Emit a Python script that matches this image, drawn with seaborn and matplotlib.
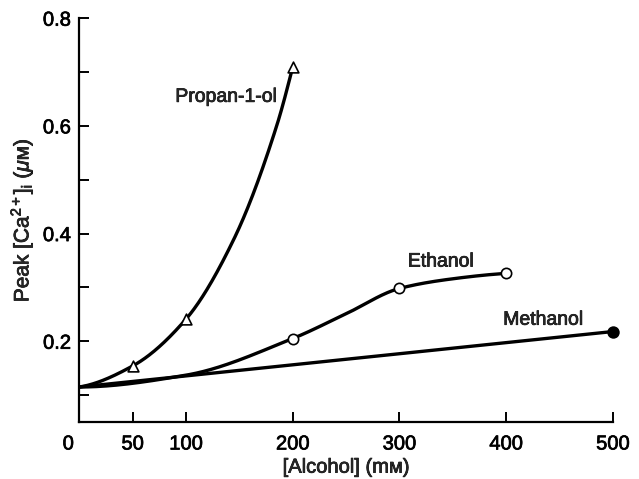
import numpy as np
import pandas as pd
import matplotlib
matplotlib.use("Agg")
import matplotlib.pyplot as plt
import matplotlib.transforms as mtransforms
import matplotlib.patheffects as pe
import seaborn as sns

# ---- data ----
# traced curve paths (start point at 0 mM plus points along the drawn curves)
prop_x = [0, 50, 100, 145, 185, 200]
prop_y = [0.115, 0.154, 0.241, 0.390, 0.600, 0.709]
eth_x = [0, 100, 200, 250, 300, 350, 400]
eth_y = [0.115, 0.137, 0.205, 0.251, 0.298, 0.316, 0.326]
meth_x = [0, 500]
meth_y = [0.115, 0.218]

# measured points (markers)
prop_marker_x = [50, 100, 200]
prop_marker_y = [0.154, 0.241, 0.709]
eth_marker_x = [200, 300, 400]
eth_marker_y = [0.205, 0.298, 0.326]
meth_marker_x = [500]
meth_marker_y = [0.218]

x_ticks = [0, 50, 100, 200, 300, 400, 500]
y_major = [0.2, 0.4, 0.6, 0.8]
y_minor = [0.1, 0.3, 0.5, 0.7]


def pchip(x, y, n=300):
    x = np.asarray(x, float)
    y = np.asarray(y, float)
    h = np.diff(x)
    d = np.diff(y) / h
    m = np.zeros_like(x)
    for k in range(1, len(x) - 1):
        if d[k - 1] * d[k] > 0:
            w1 = 2 * h[k] + h[k - 1]
            w2 = h[k] + 2 * h[k - 1]
            m[k] = (w1 + w2) / (w1 / d[k - 1] + w2 / d[k])
    if len(x) > 2:
        m[0] = ((2 * h[0] + h[1]) * d[0] - h[0] * d[1]) / (h[0] + h[1])
        if np.sign(m[0]) != np.sign(d[0]):
            m[0] = 0
        m[-1] = ((2 * h[-1] + h[-2]) * d[-1] - h[-1] * d[-2]) / (h[-1] + h[-2])
        if np.sign(m[-1]) != np.sign(d[-1]):
            m[-1] = 0
    else:
        m[:] = d[0]
    xs = np.linspace(x[0], x[-1], n)
    ys = np.empty_like(xs)
    for i, xv in enumerate(xs):
        k = min(np.searchsorted(x, xv, side="right") - 1, len(x) - 2)
        t = (xv - x[k]) / h[k]
        h00 = 2 * t**3 - 3 * t**2 + 1
        h10 = t**3 - 2 * t**2 + t
        h01 = -2 * t**3 + 3 * t**2
        h11 = t**3 - t**2
        ys[i] = h00 * y[k] + h10 * h[k] * m[k] + h01 * y[k + 1] + h11 * h[k] * m[k + 1]
    return xs, ys


sns.set_theme(style="ticks")
plt.rcParams["font.family"] = ["Liberation Sans", "DejaVu Sans"]
plt.rcParams["mathtext.fontset"] = "custom"
plt.rcParams["mathtext.rm"] = "Liberation Sans"
plt.rcParams["mathtext.it"] = "Liberation Sans:italic"

thick = [pe.withStroke(linewidth=0.5, foreground="black")]

fig = plt.figure(figsize=(6.39, 4.79), dpi=100)
ax = fig.add_axes([0.124, 0.119, 0.835, 0.843])

lw = 2.4
for cx, cy in [(prop_x, prop_y), (eth_x, eth_y), (meth_x, meth_y)]:
    xs, ys = pchip(cx, cy)
    sns.lineplot(x=xs, y=ys, ax=ax, color="black", linewidth=lw, sort=False,
                 estimator=None)

sns.scatterplot(x=prop_marker_x, y=prop_marker_y, ax=ax, marker="^", s=60,
                facecolor="white", edgecolor="black", linewidth=1.2, zorder=5,
                clip_on=False)
sns.scatterplot(x=eth_marker_x, y=eth_marker_y, ax=ax, marker="o", s=55,
                facecolor="white", edgecolor="black", linewidth=1.2, zorder=5,
                clip_on=False)
sns.scatterplot(x=meth_marker_x, y=meth_marker_y, ax=ax, marker="o", s=60,
                facecolor="black", edgecolor="black", linewidth=1.2, zorder=5,
                clip_on=False)

for s, xx, yy in [("Propan-1-ol", 138, 0.653), ("Ethanol", 339, 0.347),
                  ("Methanol", 435, 0.239)]:
    ax.text(xx, yy, s, fontsize=14, ha="center", va="center", path_effects=thick)

ax.set_xlim(0, 500)
ax.set_ylim(0.05, 0.8)
ax.set_xticks(x_ticks)
ax.set_xticklabels([str(v) for v in x_ticks])
ax.set_yticks(y_major)
ax.set_yticklabels([f"{v:.1f}" for v in y_major])
ax.set_yticks(y_minor, minor=True)

for side in ["top", "right"]:
    ax.spines[side].set_visible(False)
for side in ["left", "bottom"]:
    ax.spines[side].set_linewidth(1.6)
    ax.spines[side].set_color("black")

ax.tick_params(axis="both", which="both", direction="in", length=7, width=1.4,
               labelsize=14.5, colors="black")
ax.tick_params(axis="x", pad=9)
ax.tick_params(axis="y", pad=6)
for lab in ax.get_xticklabels() + ax.get_yticklabels():
    lab.set_path_effects(thick)
# the "0" label sits a little left of the origin in the reference
first = ax.get_xticklabels()[0]
first.set_transform(first.get_transform() +
                    mtransforms.ScaledTranslation(-11 / 100, 0, fig.dpi_scale_trans))

ax.set_xlabel("[Alcohol] (mм)", fontsize=14.5, labelpad=3, path_effects=thick)
ax.set_ylabel(r"Peak [Ca$^{2+}$]$_{\rm i}$ ($\mu$м)", fontsize=15, labelpad=6,
              path_effects=thick)

fig.savefig("out.png", dpi=100, facecolor="white")
